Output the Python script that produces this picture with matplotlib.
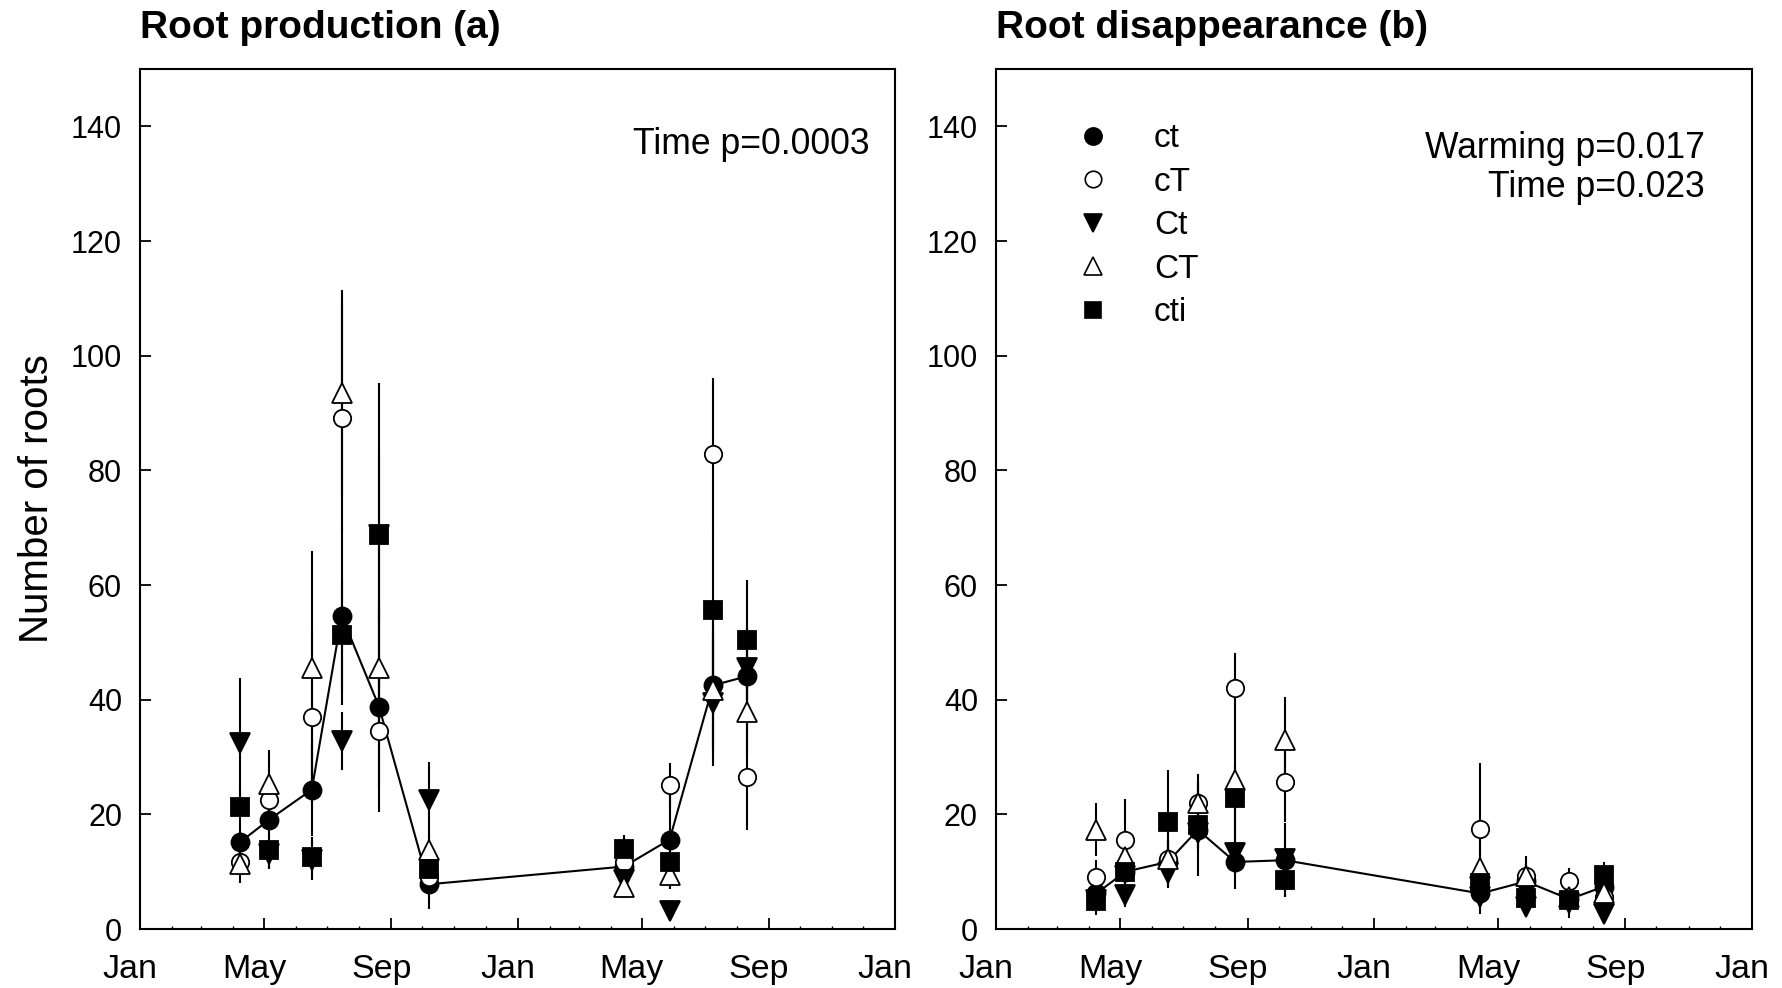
import numpy as np
import matplotlib
matplotlib.use('Agg')
import matplotlib.pyplot as plt
from matplotlib.lines import Line2D
from matplotlib.transforms import ScaledTranslation

plt.rcParams['font.family'] = ['Liberation Sans', 'DejaVu Sans']

# sampling dates, as days since 1 Jan of the first year
days = [97, 125, 166, 195, 231, 279, 468, 512, 554, 587]

treatments = ['ct', 'cT', 'Ct', 'CT', 'cti']

# Root production (a): means and errors for each treatment
prod_ct = [15.2, 19.1, 24.3, 54.6, 38.8, 7.8, 10.9, 15.6, 42.5, 44.1]
prod_ct_err = [3, 3, 8, 15.5, 18.4, 4.3, 5.5, 8.6, 12, 8]
prod_cT = [11.7, 22.5, 37, 89.2, 34.5, 9, 11.7, 25.1, 82.8, 26.5]
prod_cT_err = [2.5, 3, 15, 20, 10, 3, 2, 3.9, 13.3, 9.3]
prod_Ct = [32.4, 13, 12, 32.8, 68.8, 22.5, 8.6, 3.1, 39.4, 45.6]
prod_Ct_err = [11.3, 2.5, 3.5, 5, 15, 6.6, 2, 1, 11, 7]
prod_CT = [11.3, 25.3, 45.6, 93.5, 45.6, 13.7, 7.4, 9.4, 41.7, 37.8]
prod_CT_err = [3.2, 6, 20.4, 18, 10, 3, 2, 2, 10, 8]
prod_cti = [21.2, 13.7, 12.5, 51.3, 68.8, 10.5, 14, 11.7, 55.7, 50.4]
prod_cti_err = [3, 3, 3.5, 10, 26.5, 3, 2.4, 3, 14, 10.4]

# Root disappearance (b)
dis_ct = [6.2, 10, 11.7, 17.3, 11.7, 12, 6.2, 8.3, 5.2, 7.4]
dis_ct_err = [3.8, 5.8, 4.6, 8.1, 4.8, 6.5, 3.5, 3, 3.3, 3]
dis_cT = [9.1, 15.5, 12.3, 21.9, 42, 25.7, 17.4, 9.2, 8.3, 5.6]
dis_cT_err = [3, 7.1, 3, 5.1, 6.2, 7, 11.6, 3.5, 2.3, 1.5]
dis_Ct = [5, 5.9, 9.7, 16.7, 13.2, 12.3, 5.6, 3.9, 4.6, 2.7]
dis_Ct_err = [2, 2, 2, 3, 3, 3, 2, 1.5, 1.5, 1.5]
dis_CT = [17.3, 12.6, 12.3, 21.9, 26, 33, 10.6, 9.2, 5.5, 6.2]
dis_CT_err = [4.6, 3, 3, 4, 10, 7.4, 4, 2, 1.5, 1.5]
dis_cti = [4.8, 10, 18.7, 18.1, 22.8, 8.5, 8, 5.4, 5.1, 9.4]
dis_cti_err = [2, 3, 9, 4, 6, 3, 3, 2, 2, 2.3]

prod = {'ct': prod_ct, 'cT': prod_cT, 'Ct': prod_Ct, 'CT': prod_CT, 'cti': prod_cti}
prod_err = {'ct': prod_ct_err, 'cT': prod_cT_err, 'Ct': prod_Ct_err,
            'CT': prod_CT_err, 'cti': prod_cti_err}
dis = {'ct': dis_ct, 'cT': dis_cT, 'Ct': dis_Ct, 'CT': dis_CT, 'cti': dis_cti}
dis_err = {'ct': dis_ct_err, 'cT': dis_cT_err, 'Ct': dis_Ct_err,
           'CT': dis_CT_err, 'cti': dis_cti_err}

# marker, face colour, size
styles = {
    'ct': ('o', 'black', 13),
    'cT': ('o', 'white', 12.5),
    'Ct': ('v', 'black', 14),
    'CT': ('^', 'white', 14),
    'cti': ('s', 'black', 12.5),
}

# month starts over the two years shown
month_len = [31, 28, 31, 30, 31, 30, 31, 31, 30, 31, 30, 31] * 2
month_start = np.concatenate([[0], np.cumsum(month_len)])
tick_labels = ['Jan', 'May', 'Sep', 'Jan', 'May', 'Sep', 'Jan']

fig = plt.figure(figsize=(17.82, 9.88), dpi=100)
ax_a = fig.add_axes([0.0786, 0.0597, 0.4237, 0.8704])
ax_b = fig.add_axes([0.5589, 0.0597, 0.4241, 0.8704])


def draw_panel(ax, means, errs, title):
    for name in treatments:
        ax.errorbar(days, means[name], yerr=errs[name], fmt='none',
                    ecolor='black', elinewidth=1.5, capsize=0, zorder=1)
    ax.plot(days, means['ct'], color='black', lw=1.5, zorder=2)
    for name in treatments:
        m, face, s = styles[name]
        ax.plot(days, means[name], linestyle='none', marker=m, markersize=s,
                markerfacecolor=face, markeredgecolor='black',
                markeredgewidth=1.3, zorder=3)

    ax.set_xlim(0, 730)
    ax.set_ylim(0, 150)
    ax.set_xticks(month_start[::4])
    ax.set_xticklabels(tick_labels)
    ax.set_xticks(month_start, minor=True)
    ax.set_yticks(np.arange(0, 141, 20))
    ax.tick_params(axis='both', which='major', direction='in', length=8,
                   width=1.3, top=False, right=False)
    ax.tick_params(axis='x', which='major', pad=18, labelsize=24.5)
    ax.tick_params(axis='y', which='major', pad=13, labelsize=22)
    ax.tick_params(axis='x', which='minor', direction='in', length=2,
                   width=1, top=False)
    for sp in ax.spines.values():
        sp.set_linewidth(1.5)
    # SigmaPlot places the month labels a bit left of the tick
    for lbl in ax.get_xticklabels():
        lbl.set_transform(lbl.get_transform() +
                          ScaledTranslation(-0.1, 0, fig.dpi_scale_trans))
    ax.set_title(title, loc='left', fontsize=28, fontweight='bold', pad=22.5)


draw_panel(ax_a, prod, prod_err, 'Root production (a)')
draw_panel(ax_b, dis, dis_err, 'Root disappearance (b)')

ax_a.set_ylabel('Number of roots', fontsize=29)
ax_a.yaxis.set_label_coords(-0.1115, 0.5)

ax_a.text(0.966, 0.912, 'Time p=0.0003', transform=ax_a.transAxes,
          ha='right', va='center', fontsize=25.6)
ax_b.text(0.938, 0.908, 'Warming p=0.017', transform=ax_b.transAxes,
          ha='right', va='center', fontsize=25.6)
ax_b.text(0.938, 0.862, 'Time p=0.023', transform=ax_b.transAxes,
          ha='right', va='center', fontsize=25.6)

handles = []
for name in treatments:
    m, face, s = styles[name]
    handles.append(Line2D([], [], linestyle='none', marker=m, markersize=s * 0.95,
                          markerfacecolor=face, markeredgecolor='black',
                          markeredgewidth=1.2))
ax_b.legend(handles, treatments, loc='upper left', bbox_to_anchor=(0.1058, 0.937),
            frameon=False, fontsize=24, handlelength=1.0, handletextpad=1.34,
            labelspacing=0.375, borderaxespad=0, borderpad=0)

fig.savefig('out.png', dpi=100)
